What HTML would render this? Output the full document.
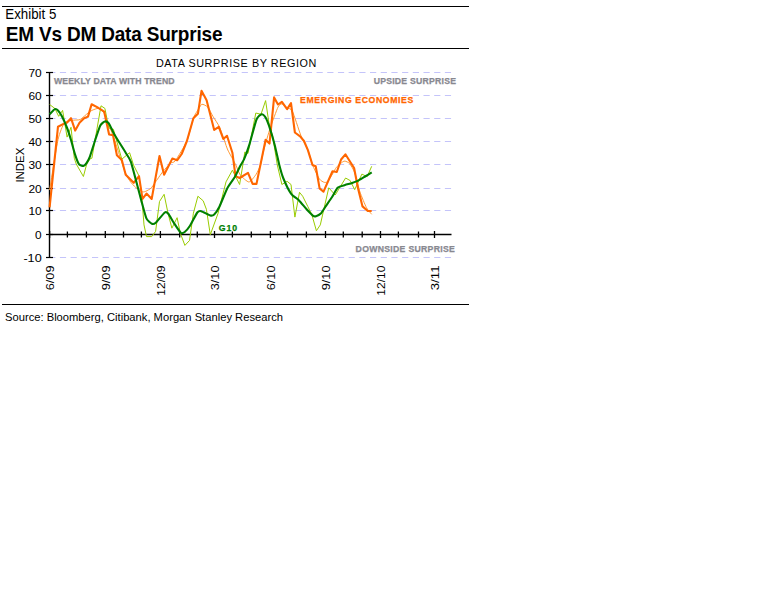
<!DOCTYPE html>
<html><head><meta charset="utf-8"><style>
html,body{margin:0;padding:0;background:#fff;}
body{width:768px;height:614px;position:relative;overflow:hidden;font-family:"Liberation Sans",sans-serif;}
.ab{position:absolute;white-space:nowrap;}
.rule{position:absolute;left:2px;width:467px;height:1px;background:#000;}
svg{position:absolute;left:0;top:0;}
svg text{font-family:"Liberation Sans",sans-serif;}
</style></head><body>
<div class="rule" style="top:6px;"></div>
<div class="ab" style="left:5.3px;top:6.6px;font-size:13.3px;line-height:16px;color:#000;transform-origin:0 0;transform:scaleY(1.04);">Exhibit 5</div>
<div class="ab" style="left:5.8px;top:23.2px;font-size:19px;line-height:22px;font-weight:bold;letter-spacing:-0.19px;color:#000;transform-origin:0 0;transform:scaleY(1.07);">EM Vs DM Data Surprise</div>
<div class="rule" style="top:48px;"></div>
<svg width="768" height="614" viewBox="0 0 768 614">
<line x1="49.2" y1="72.5" x2="451.2" y2="72.5" stroke="#c4c4fa" stroke-width="1" stroke-dasharray="6.2,4.494"/>
<line x1="49.2" y1="95.5" x2="451.2" y2="95.5" stroke="#c4c4fa" stroke-width="1" stroke-dasharray="6.2,4.494"/>
<line x1="49.2" y1="118.5" x2="451.2" y2="118.5" stroke="#c4c4fa" stroke-width="1" stroke-dasharray="6.2,4.494"/>
<line x1="49.2" y1="141.5" x2="451.2" y2="141.5" stroke="#c4c4fa" stroke-width="1" stroke-dasharray="6.2,4.494"/>
<line x1="49.2" y1="164.5" x2="451.2" y2="164.5" stroke="#c4c4fa" stroke-width="1" stroke-dasharray="6.2,4.494"/>
<line x1="49.2" y1="188.5" x2="451.2" y2="188.5" stroke="#c4c4fa" stroke-width="1" stroke-dasharray="6.2,4.494"/>
<line x1="49.2" y1="210.5" x2="451.2" y2="210.5" stroke="#c4c4fa" stroke-width="1" stroke-dasharray="6.2,4.494"/>
<line x1="49.2" y1="257.5" x2="451.2" y2="257.5" stroke="#c4c4fa" stroke-width="1" stroke-dasharray="6.2,4.494"/>
<line x1="49.5" y1="72.0" x2="49.5" y2="258.0" stroke="#000" stroke-width="1.4"/>
<line x1="46" y1="72.5" x2="53" y2="72.5" stroke="#000" stroke-width="1.2"/>
<text x="28.4" y="76.8" font-size="10.6" fill="#000" textLength="13.3" lengthAdjust="spacingAndGlyphs">70</text>
<line x1="46" y1="95.5" x2="53" y2="95.5" stroke="#000" stroke-width="1.2"/>
<text x="28.4" y="99.8" font-size="10.6" fill="#000" textLength="13.3" lengthAdjust="spacingAndGlyphs">60</text>
<line x1="46" y1="118.5" x2="53" y2="118.5" stroke="#000" stroke-width="1.2"/>
<text x="28.4" y="122.8" font-size="10.6" fill="#000" textLength="13.3" lengthAdjust="spacingAndGlyphs">50</text>
<line x1="46" y1="141.5" x2="53" y2="141.5" stroke="#000" stroke-width="1.2"/>
<text x="28.4" y="145.8" font-size="10.6" fill="#000" textLength="13.3" lengthAdjust="spacingAndGlyphs">40</text>
<line x1="46" y1="164.5" x2="53" y2="164.5" stroke="#000" stroke-width="1.2"/>
<text x="28.4" y="168.8" font-size="10.6" fill="#000" textLength="13.3" lengthAdjust="spacingAndGlyphs">30</text>
<line x1="46" y1="188.5" x2="53" y2="188.5" stroke="#000" stroke-width="1.2"/>
<text x="28.4" y="192.8" font-size="10.6" fill="#000" textLength="13.3" lengthAdjust="spacingAndGlyphs">20</text>
<line x1="46" y1="210.5" x2="53" y2="210.5" stroke="#000" stroke-width="1.2"/>
<text x="28.4" y="214.8" font-size="10.6" fill="#000" textLength="13.3" lengthAdjust="spacingAndGlyphs">10</text>
<line x1="46" y1="234.5" x2="53" y2="234.5" stroke="#000" stroke-width="1.2"/>
<text x="35.1" y="238.8" font-size="10.6" fill="#000" textLength="6.6" lengthAdjust="spacingAndGlyphs">0</text>
<line x1="46" y1="257.5" x2="53" y2="257.5" stroke="#000" stroke-width="1.2"/>
<text x="23.4" y="261.8" font-size="10.6" fill="#000" textLength="18.3" lengthAdjust="spacingAndGlyphs">-10</text>
<line x1="49.5" y1="234.5" x2="451.5" y2="234.5" stroke="#000" stroke-width="1.3"/>
<line x1="49.6" y1="231.0" x2="49.6" y2="238.0" stroke="#000" stroke-width="1.3"/>
<line x1="67.4" y1="231.5" x2="67.4" y2="237.5" stroke="#000" stroke-width="1.3"/>
<line x1="86.4" y1="231.5" x2="86.4" y2="237.5" stroke="#000" stroke-width="1.3"/>
<line x1="105.3" y1="231.0" x2="105.3" y2="238.0" stroke="#000" stroke-width="1.3"/>
<line x1="123.5" y1="231.5" x2="123.5" y2="237.5" stroke="#000" stroke-width="1.3"/>
<line x1="141.4" y1="231.5" x2="141.4" y2="237.5" stroke="#000" stroke-width="1.3"/>
<line x1="160.4" y1="231.0" x2="160.4" y2="238.0" stroke="#000" stroke-width="1.3"/>
<line x1="179.7" y1="231.5" x2="179.7" y2="237.5" stroke="#000" stroke-width="1.3"/>
<line x1="197.3" y1="231.5" x2="197.3" y2="237.5" stroke="#000" stroke-width="1.3"/>
<line x1="214.5" y1="231.0" x2="214.5" y2="238.0" stroke="#000" stroke-width="1.3"/>
<line x1="232.4" y1="231.5" x2="232.4" y2="237.5" stroke="#000" stroke-width="1.3"/>
<line x1="251.3" y1="231.5" x2="251.3" y2="237.5" stroke="#000" stroke-width="1.3"/>
<line x1="270.4" y1="231.0" x2="270.4" y2="238.0" stroke="#000" stroke-width="1.3"/>
<line x1="287.5" y1="231.5" x2="287.5" y2="237.5" stroke="#000" stroke-width="1.3"/>
<line x1="306.4" y1="231.5" x2="306.4" y2="237.5" stroke="#000" stroke-width="1.3"/>
<line x1="325.5" y1="231.0" x2="325.5" y2="238.0" stroke="#000" stroke-width="1.3"/>
<line x1="343.3" y1="231.5" x2="343.3" y2="237.5" stroke="#000" stroke-width="1.3"/>
<line x1="362.2" y1="231.5" x2="362.2" y2="237.5" stroke="#000" stroke-width="1.3"/>
<line x1="380.5" y1="231.0" x2="380.5" y2="238.0" stroke="#000" stroke-width="1.3"/>
<line x1="398.4" y1="231.5" x2="398.4" y2="237.5" stroke="#000" stroke-width="1.3"/>
<line x1="418.5" y1="231.5" x2="418.5" y2="237.5" stroke="#000" stroke-width="1.3"/>
<line x1="434.5" y1="231.0" x2="434.5" y2="238.0" stroke="#000" stroke-width="1.3"/>
<text transform="translate(49.6,265.5) rotate(-90)" x="-24.8" y="4.7" font-size="11" fill="#000" textLength="24.8" lengthAdjust="spacingAndGlyphs">6/09</text>
<text transform="translate(105.3,265.5) rotate(-90)" x="-24.8" y="4.7" font-size="11" fill="#000" textLength="24.8" lengthAdjust="spacingAndGlyphs">9/09</text>
<text transform="translate(160.4,265.5) rotate(-90)" x="-30.2" y="4.7" font-size="11" fill="#000" textLength="30.2" lengthAdjust="spacingAndGlyphs">12/09</text>
<text transform="translate(214.5,265.5) rotate(-90)" x="-24.8" y="4.7" font-size="11" fill="#000" textLength="24.8" lengthAdjust="spacingAndGlyphs">3/10</text>
<text transform="translate(270.4,265.5) rotate(-90)" x="-24.8" y="4.7" font-size="11" fill="#000" textLength="24.8" lengthAdjust="spacingAndGlyphs">6/10</text>
<text transform="translate(325.5,265.5) rotate(-90)" x="-24.8" y="4.7" font-size="11" fill="#000" textLength="24.8" lengthAdjust="spacingAndGlyphs">9/10</text>
<text transform="translate(380.5,265.5) rotate(-90)" x="-30.2" y="4.7" font-size="11" fill="#000" textLength="30.2" lengthAdjust="spacingAndGlyphs">12/10</text>
<text transform="translate(434.5,265.5) rotate(-90)" x="-24.8" y="4.7" font-size="11" fill="#000" textLength="24.8" lengthAdjust="spacingAndGlyphs">3/11</text>
<path d="M49.60,190.00 C50.44,184.97 56.51,146.42 58.00,139.70 C59.49,132.98 62.94,124.75 64.50,122.80 C66.06,120.85 72.03,120.53 73.60,120.20 C75.17,119.87 78.76,120.22 80.20,119.50 C81.64,118.78 86.83,113.91 88.00,113.00 C89.17,112.09 90.86,110.86 91.90,110.40 C92.94,109.94 97.17,108.14 98.40,108.40 C99.63,108.66 103.29,111.56 104.20,113.00 C105.11,114.44 106.65,120.65 107.50,122.80 C108.35,124.95 111.01,129.76 112.70,134.50 C114.39,139.24 122.71,165.59 124.40,170.20 C126.09,174.81 128.49,178.89 129.60,180.60 C130.71,182.31 134.21,186.18 135.50,187.30 C136.79,188.42 141.45,191.41 142.50,191.80 C143.55,192.19 145.14,191.57 146.00,191.20 C146.86,190.83 150.20,188.95 151.10,188.10 C152.00,187.25 153.83,184.34 155.00,182.70 C156.17,181.06 161.24,173.66 162.80,171.70 C164.36,169.74 169.35,164.19 170.60,163.10 C171.85,162.01 173.67,163.01 175.30,160.80 C176.93,158.59 185.09,145.26 186.90,141.00 C188.71,136.74 192.36,121.20 193.40,118.20 C194.44,115.20 196.46,112.39 197.30,111.00 C198.14,109.61 200.76,104.69 201.80,104.30 C202.84,103.91 206.59,105.90 207.70,107.10 C208.81,108.30 211.73,114.34 212.90,116.30 C214.07,118.26 218.23,124.23 219.40,126.70 C220.57,129.17 223.76,138.67 224.60,141.00 C225.44,143.33 226.70,147.65 227.80,150.00 C228.90,152.35 234.35,162.00 235.60,164.50 C236.85,167.00 238.97,173.25 240.30,175.00 C241.63,176.75 247.33,182.05 248.90,182.00 C250.47,181.95 254.83,176.22 256.00,174.50 C257.17,172.78 259.83,167.25 260.60,164.80 C261.38,162.35 262.79,153.68 263.75,150.00 C264.71,146.32 268.77,132.29 270.20,128.00 C271.62,123.71 276.83,109.51 278.00,107.10 C279.17,104.69 280.99,103.83 281.90,103.90 C282.81,103.97 286.06,107.09 287.10,107.80 C288.14,108.51 290.94,108.27 292.30,111.00 C293.67,113.73 299.19,131.19 300.75,135.10 C302.31,139.01 306.67,147.01 307.90,150.10 C309.12,153.19 311.84,163.10 313.00,166.00 C314.16,168.90 318.39,177.47 319.50,179.10 C320.61,180.73 323.31,182.04 324.10,182.30 C324.89,182.56 326.55,182.54 327.40,181.70 C328.25,180.86 331.70,175.34 332.60,173.90 C333.50,172.46 335.39,168.50 336.40,167.30 C337.40,166.10 341.79,162.52 342.65,161.90 C343.51,161.28 344.31,160.94 345.00,161.10 C345.69,161.25 348.53,162.30 349.50,163.45 C350.47,164.60 353.65,169.73 354.70,172.60 C355.75,175.47 358.82,188.58 360.00,192.10 C361.18,195.62 365.33,205.53 366.50,207.75 C367.67,209.97 371.18,213.65 371.70,214.30" fill="none" stroke="#ff9933" stroke-width="1" stroke-linejoin="round"/>
<polyline points="49.60,104.50 54.80,108.40 58.70,116.30 62.60,110.40 67.10,137.10 71.00,127.30 74.30,158.20 76.30,164.10 83.40,176.50 86.70,164.10 90.00,158.90 91.90,158.20 101.00,105.80 104.90,108.40 108.80,128.00 113.40,129.30 121.80,159.20 129.60,152.70 133.50,165.00 138.75,175.40 141.40,192.30 144.00,224.90 146.50,236.60 151.70,236.60 155.60,231.40 159.50,201.50 164.10,194.30 168.00,213.20 171.90,228.20 177.10,217.70 180.40,233.40 184.90,245.40 189.50,240.50 193.40,213.20 197.90,196.25 203.20,200.80 206.40,209.30 210.30,234.70 218.10,213.20 226.00,181.90 232.40,170.20 236.40,178.00 239.60,184.50 242.80,165.00 244.80,152.00 248.00,153.40 255.80,113.00 261.00,114.30 265.60,100.60 268.90,122.80 272.80,137.10 277.30,165.00 281.90,184.50 287.10,181.30 291.00,184.50 294.90,217.10 299.50,192.30 302.70,196.25 307.90,206.70 311.80,214.50 316.40,230.75 320.30,224.90 328.75,187.80 335.20,195.00 345.60,178.00 350.20,180.60 354.70,189.70 361.90,174.10 367.10,176.70 371.70,166.30" fill="none" stroke="#99cc00" stroke-width="1" stroke-linejoin="round"/>
<polyline points="49.60,207.30 58.00,126.70 64.50,123.40 67.10,122.50 71.00,118.20 75.20,130.60 79.50,122.80 84.10,118.20 88.00,116.60 91.60,104.30 97.10,107.10 104.20,111.70 109.10,134.50 113.00,135.10 116.90,155.30 121.80,159.90 125.70,174.80 133.70,182.80 139.00,176.20 142.50,198.90 146.50,193.60 151.70,198.90 159.50,156.00 164.10,174.80 172.30,158.60 177.10,160.30 181.70,154.00 186.90,141.00 193.40,118.20 197.90,113.80 201.50,90.80 206.60,100.30 214.20,129.90 218.80,126.90 223.30,139.00 227.00,135.80 232.40,152.70 235.50,176.10 239.60,178.00 248.00,172.80 252.60,183.90 256.50,183.90 265.60,139.70 269.50,143.60 274.10,97.40 278.00,104.50 281.90,101.90 287.10,109.10 291.00,103.20 294.90,132.50 300.10,136.40 304.00,141.00 307.90,150.10 312.50,165.00 315.70,166.30 319.60,188.40 323.50,191.70 332.50,171.25 336.80,172.00 341.10,159.50 345.40,154.30 354.10,168.00 358.00,188.20 362.50,206.40 367.75,211.00 371.70,211.00" fill="none" stroke="#ff6600" stroke-width="2.1" stroke-linejoin="round"/>
<path d="M49.60,114.30 C50.12,113.78 53.96,109.49 54.80,109.10 C55.64,108.71 57.29,109.68 58.00,110.40 C58.71,111.12 60.99,114.54 61.90,116.30 C62.81,118.06 66.19,125.63 67.10,128.00 C68.01,130.37 70.21,137.37 71.00,140.00 C71.79,142.63 74.21,151.89 75.00,154.30 C75.79,156.71 78.06,162.93 78.90,164.10 C79.74,165.27 82.62,166.13 83.40,166.00 C84.18,165.87 86.04,163.77 86.70,162.80 C87.36,161.83 89.15,158.58 90.00,156.30 C90.85,154.02 94.17,143.09 95.20,140.00 C96.23,136.91 99.33,127.25 100.30,125.40 C101.27,123.55 104.05,121.70 104.90,121.50 C105.75,121.30 107.89,122.17 108.80,123.40 C109.71,124.63 112.96,131.91 114.00,133.80 C115.04,135.69 118.03,140.41 119.20,142.30 C120.37,144.19 124.53,150.75 125.70,152.70 C126.87,154.65 129.73,158.49 130.90,161.80 C132.07,165.11 136.37,181.96 137.40,185.80 C138.43,189.64 140.30,196.94 141.20,200.20 C142.10,203.46 145.33,216.04 146.40,218.40 C147.47,220.76 150.96,223.37 151.90,223.80 C152.84,224.23 154.51,223.83 155.80,222.70 C157.09,221.57 163.55,213.40 164.80,212.50 C166.05,211.60 167.41,212.68 168.30,213.70 C169.20,214.72 172.50,220.79 173.75,222.70 C175.00,224.61 179.71,231.87 180.80,232.80 C181.90,233.73 183.78,232.70 184.70,232.00 C185.62,231.30 188.74,227.75 190.00,225.80 C191.26,223.85 196.18,213.96 197.30,212.50 C198.42,211.04 199.90,210.90 201.20,211.20 C202.50,211.50 209.00,215.17 210.30,215.50 C211.60,215.83 213.29,215.38 214.20,214.50 C215.11,213.62 218.10,209.31 219.40,206.70 C220.70,204.09 225.64,191.40 227.20,188.40 C228.76,185.40 233.70,178.94 235.00,176.70 C236.30,174.46 239.29,167.75 240.20,166.00 C241.11,164.25 243.19,161.31 244.10,159.20 C245.01,157.09 248.06,148.87 249.30,144.90 C250.54,140.93 255.26,122.56 256.50,119.50 C257.74,116.44 260.79,114.49 261.70,114.30 C262.61,114.11 264.75,116.10 265.60,117.60 C266.45,119.10 269.29,126.57 270.20,129.30 C271.11,132.03 273.79,141.33 274.70,144.90 C275.61,148.47 278.45,161.69 279.30,165.00 C280.15,168.31 282.03,175.14 283.20,178.00 C284.37,180.86 289.44,191.38 291.00,193.60 C292.56,195.82 297.24,198.63 298.80,200.20 C300.36,201.77 305.17,207.74 306.60,209.30 C308.03,210.86 312.16,215.11 313.10,215.80 C314.04,216.49 315.23,216.42 316.00,216.20 C316.77,215.98 319.80,214.64 320.80,213.60 C321.80,212.56 324.89,207.43 326.00,205.80 C327.11,204.17 330.72,199.12 331.90,197.30 C333.08,195.48 336.49,188.83 337.80,187.60 C339.11,186.37 343.57,185.46 345.00,185.00 C346.43,184.54 350.74,183.46 352.10,183.00 C353.46,182.54 357.30,181.05 358.60,180.40 C359.90,179.75 363.79,177.30 365.10,176.50 C366.41,175.70 371.04,172.81 371.70,172.40" fill="none" stroke="#008000" stroke-width="2.1" stroke-linejoin="round"/>
<text x="53.9" y="84.0" font-size="8.7" font-weight="bold" fill="#888890" stroke="#888890" stroke-width="0.25" textLength="120.7" lengthAdjust="spacing">WEEKLY DATA WITH TREND</text>
<text x="373.7" y="84.1" font-size="8.7" font-weight="bold" fill="#888890" stroke="#888890" stroke-width="0.25" textLength="82.3" lengthAdjust="spacing">UPSIDE SURPRISE</text>
<text x="355.6" y="252.1" font-size="8.7" font-weight="bold" fill="#888890" stroke="#888890" stroke-width="0.25" textLength="99.2" lengthAdjust="spacing">DOWNSIDE SURPRISE</text>
<text x="300.1" y="102.6" font-size="8.7" font-weight="bold" fill="#ff6600" stroke="#ff6600" stroke-width="0.25" textLength="113.2" lengthAdjust="spacing">EMERGING ECONOMIES</text>
<text x="218.8" y="230.8" font-size="8.7" font-weight="bold" fill="#008000" stroke="#008000" stroke-width="0.25" textLength="18.2" lengthAdjust="spacing">G10</text>
<text x="155.9" y="66.9" font-size="10.8"  fill="#000" textLength="160.5" lengthAdjust="spacing">DATA SURPRISE BY REGION</text>
<text transform="translate(24.2,182.6) rotate(-90)" x="0" y="0" font-size="11.2" fill="#000" textLength="35" lengthAdjust="spacingAndGlyphs">INDEX</text>
</svg>
<div class="rule" style="top:304px;"></div>
<div class="ab" style="left:5px;top:310px;font-size:11.2px;line-height:14px;color:#000;">Source: Bloomberg, Citibank, Morgan Stanley Research</div>
</body></html>
